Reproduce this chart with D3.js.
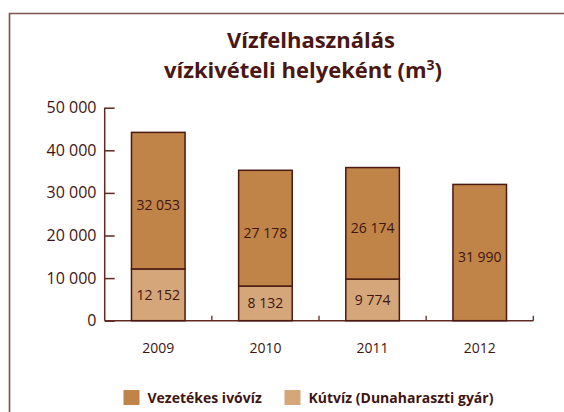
<!DOCTYPE html>
<html>
<head>
<meta charset="utf-8">
<script src="https://cdn.jsdelivr.net/npm/d3@7/dist/d3.min.js"></script>
<style>
  body { margin: 0; background: #fff; }
  svg { display: block; font-family: "Open Sans", sans-serif; }
</style>
</head>
<body>
<div id="chart"></div>
<script>
var years = ['2009', '2010', '2011', '2012'];
var kutviz = [12152, 8132, 9774, 0];
var vezetekes = [32053, 27178, 26174, 31990];
var yTicks = [0, 10000, 20000, 30000, 40000, 50000];
var seriesNames = ['Vezetékes ivóvíz', 'Kútvíz (Dunaharaszti gyár)'];
var seriesColors = ['#c08348', '#d4a679'];

var svgWidth = 564;
var svgHeight = 412;
var textColor = '#3f1511';
var lineColor = '#5e2a22';

var svg = d3.select('#chart')
  .append('svg')
  .attr('width', svgWidth)
  .attr('height', svgHeight);

// frame (only top and left visible)
svg.append('path')
  .attr('d', 'M9.5,412 V13.5 H564')
  .attr('fill', 'none')
  .attr('stroke', '#7a534d')
  .attr('stroke-width', 1.6);

// title, two lines
svg.append('text')
  .attr('x', 311).attr('y', 48)
  .attr('text-anchor', 'middle')
  .attr('fill', '#4a1713')
  .attr('font-weight', 'bold')
  .attr('font-size', 22)
  .text('Vízfelhasználás');
var t2 = svg.append('text')
  .attr('x', 303).attr('y', 78)
  .attr('text-anchor', 'middle')
  .attr('fill', '#4a1713')
  .attr('font-weight', 'bold')
  .attr('font-size', 22)
  .text('vízkivételi helyeként (m');
t2.append('tspan').attr('font-size', 14).attr('dy', -8).text('3');
t2.append('tspan').attr('dy', 8).text(')');

var x0 = 104.7, x1 = 533.3, yTop = 107.7, yBase = 320.7;

var xScale = d3.scaleBand()
  .domain(years)
  .range([x0, x1])
  .paddingInner(0.5)
  .paddingOuter(0.25);

var yScale = d3.scaleLinear()
  .domain([0, 50000])
  .range([yBase, yTop]);

var fmt = function(v) { return d3.format(',')(v).replace(/,/g, ' '); };

// y axis
var yAxis = svg.append('g')
  .attr('transform', `translate(${x0}, 0)`)
  .call(d3.axisRight(yScale).tickValues(yTicks).tickSize(10).tickFormat(''));
yAxis.select('.domain').remove();
yAxis.selectAll('line').attr('stroke', lineColor).attr('stroke-width', 1.5);
svg.append('line')
  .attr('x1', x0).attr('x2', x0)
  .attr('y1', yScale(50000)).attr('y2', yBase)
  .attr('stroke', lineColor).attr('stroke-width', 1.5);

svg.selectAll('text.ytick')
  .data(yTicks)
  .enter()
  .append('text')
  .attr('class', 'ytick')
  .attr('x', 96.5)
  .attr('y', d => yScale(d) + 5.5)
  .attr('text-anchor', 'end')
  .attr('font-size', 16)
  .attr('fill', textColor)
  .text(d => fmt(d));

// x axis: baseline with small upward ticks at band boundaries
svg.append('line')
  .attr('x1', x0).attr('x2', x1)
  .attr('y1', yBase).attr('y2', yBase)
  .attr('stroke', lineColor).attr('stroke-width', 1.5);
var step = xScale.step();
svg.selectAll('line.xtick')
  .data(years)
  .enter()
  .append('line')
  .attr('class', 'xtick')
  .attr('x1', (d, i) => x0 + step * (i + 1))
  .attr('x2', (d, i) => x0 + step * (i + 1))
  .attr('y1', yBase)
  .attr('y2', yBase - 5)
  .attr('stroke', lineColor)
  .attr('stroke-width', 1.3);

svg.selectAll('text.xlabel')
  .data(years)
  .enter()
  .append('text')
  .attr('class', 'xlabel')
  .attr('x', d => xScale(d) + xScale.bandwidth() / 2)
  .attr('y', 353)
  .attr('text-anchor', 'middle')
  .attr('font-size', 14)
  .attr('fill', textColor)
  .text(d => d);

// stacked bars
var data = years.map((y, i) => ({ year: y, kut: kutviz[i], vez: vezetekes[i] }));

var bars = svg.selectAll('g.bar')
  .data(data)
  .enter()
  .append('g')
  .attr('class', 'bar');

bars.filter(d => d.kut > 0)
  .append('rect')
  .attr('x', d => xScale(d.year))
  .attr('width', xScale.bandwidth())
  .attr('y', d => yScale(d.kut))
  .attr('height', d => yBase - yScale(d.kut))
  .attr('fill', seriesColors[1])
  .attr('stroke', '#4a1a12')
  .attr('stroke-width', 1.5);

bars.append('rect')
  .attr('x', d => xScale(d.year))
  .attr('width', xScale.bandwidth())
  .attr('y', d => yScale(d.kut + d.vez))
  .attr('height', d => yScale(d.kut) - yScale(d.kut + d.vez))
  .attr('fill', seriesColors[0])
  .attr('stroke', '#4a1a12')
  .attr('stroke-width', 1.5);

bars.filter(d => d.kut > 0)
  .append('text')
  .attr('x', d => xScale(d.year) + xScale.bandwidth() / 2)
  .attr('y', d => (yScale(d.kut) + yBase) / 2 + 5)
  .attr('text-anchor', 'middle')
  .attr('font-size', 14)
  .attr('fill', textColor)
  .text(d => fmt(d.kut));

bars.append('text')
  .attr('x', d => xScale(d.year) + xScale.bandwidth() / 2)
  .attr('y', d => (yScale(d.kut) + yScale(d.kut + d.vez)) / 2 + 9.5)
  .attr('text-anchor', 'middle')
  .attr('font-size', 14)
  .attr('fill', textColor)
  .text(d => fmt(d.vez));

// legend
var legendX = [123.5, 284.5];
var legend = svg.selectAll('g.legend')
  .data(seriesNames)
  .enter()
  .append('g')
  .attr('class', 'legend')
  .attr('transform', (d, i) => `translate(${legendX[i]}, 390)`);
legend.append('rect')
  .attr('width', 16)
  .attr('height', 15)
  .attr('fill', (d, i) => seriesColors[i]);
legend.append('text')
  .attr('x', 24)
  .attr('y', 12.5)
  .attr('font-size', 14)
  .attr('font-weight', 'bold')
  .attr('fill', textColor)
  .text(d => d);
</script>
</body>
</html>
